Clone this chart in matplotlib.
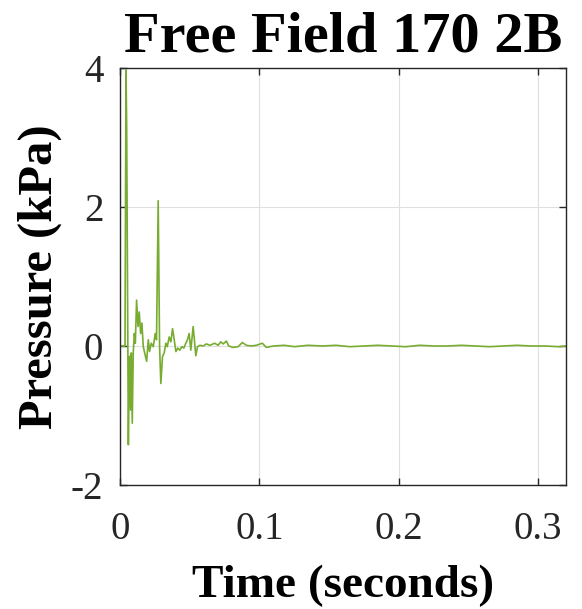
import numpy as np
import matplotlib.pyplot as plt

# free-field pressure trace (time in s, pressure in kPa)
time_s = [0.0, 0.0036, 0.0043, 0.0048, 0.0060, 0.0067, 0.0076, 0.0081, 0.0088,
          0.0095, 0.0103, 0.0110, 0.0119, 0.0129, 0.0138, 0.0148, 0.0157, 0.0167,
          0.0177, 0.0191, 0.0203, 0.0212, 0.0224, 0.0239, 0.0253, 0.0262, 0.0274,
          0.0284, 0.0293, 0.0305, 0.0317, 0.0329, 0.0339, 0.0353, 0.0365, 0.0377,
          0.0389, 0.0401, 0.0415, 0.0429, 0.0444, 0.0458, 0.0472, 0.0484, 0.0496,
          0.0508, 0.0525, 0.0535, 0.0544, 0.0556, 0.0573, 0.0597, 0.0620, 0.0644,
          0.0680, 0.0704, 0.0723, 0.0740, 0.0764, 0.0780, 0.0811, 0.0847, 0.0878,
          0.0907, 0.0942, 0.0978, 0.1021, 0.1050, 0.110, 0.118, 0.125, 0.135,
          0.145, 0.155, 0.165, 0.175, 0.185, 0.195, 0.205, 0.215, 0.225, 0.235,
          0.245, 0.255, 0.265, 0.275, 0.285, 0.295, 0.305, 0.315, 0.320]
pressure_kpa = [0.0, 0.0, 3.97, 3.14, -1.42, -0.15, -0.92, -0.10, -1.11,
                -0.10, 0.18, 0.04, 0.66, 0.28, 0.49, 0.18, 0.33, -0.01,
                -0.10, -0.22, 0.09, -0.08, 0.04, -0.01, 0.18, 0.09, 2.09,
                -0.01, -0.54, -0.15, -0.10, 0.04, -0.01, 0.13, 0.06, 0.25,
                0.09, -0.08, -0.03, -0.06, -0.01, -0.03, 0.04, 0.09, 0.18,
                -0.06, 0.28, 0.06, -0.14, -0.01, 0.01, 0.0, 0.03, 0.01,
                0.04, 0.01, 0.06, 0.03, 0.07, 0.0, -0.02, -0.01, 0.05,
                0.01, 0.0, 0.01, 0.04, -0.02, 0.0, 0.01, -0.01, 0.01,
                0.0, 0.01, -0.01, 0.0, 0.01, 0.0, -0.01, 0.01, 0.0, 0.0,
                0.01, 0.0, -0.01, 0.0, 0.01, 0.0, 0.0, -0.01, 0.0]

x_ticks = [0, 0.1, 0.2, 0.3]
x_ticklabels = ['0', '0.1', '0.2', '0.3']
y_ticks = [-2, 0, 2, 4]

plt.rcParams['font.family'] = ['Liberation Serif', 'DejaVu Serif']
plt.rcParams['axes.unicode_minus'] = False

fig = plt.figure(figsize=(5.82, 6.09), dpi=100)
ax = fig.add_axes([120 / 582, 124 / 609, 446 / 582, 417 / 609])

ax.plot(time_s, pressure_kpa, color='#77AC30', linewidth=1.2)

ax.set_xlim(0, 0.32)
ax.set_ylim(-2, 4)
ax.set_xticks(x_ticks)
ax.set_xticklabels(x_ticklabels)
ax.set_yticks(y_ticks)
ax.grid(True, color='#dfdfdf', linewidth=0.8)
ax.set_axisbelow(True)

for side in ax.spines.values():
    side.set_color('#262626')
    side.set_linewidth(1.0)
ax.tick_params(direction='in', length=5, width=1, colors='#262626',
               top=True, right=True, labelsize=28)
ax.tick_params(axis='x', pad=19)
ax.tick_params(axis='y', pad=12)

ax.set_xlabel('Time (seconds)', fontsize=34, fontweight='bold', labelpad=12)
ax.set_ylabel('Pressure (kPa)', fontsize=35, fontweight='bold')
ax.yaxis.set_label_coords(-0.13, 0.5)
ax.set_title('Free Field 170 2B', fontsize=42, fontweight='bold', pad=12)

fig.savefig('out.png', dpi=100)
